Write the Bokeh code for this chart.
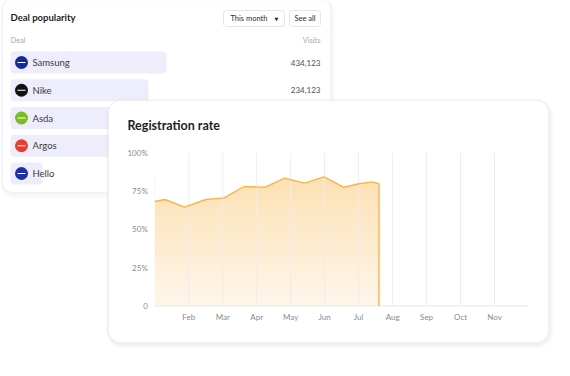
from bokeh.plotting import figure
from bokeh.models import Range1d
from bokeh.core.properties import value
from bokeh.embed import file_html
from bokeh.resources import INLINE

# ---------------- data ----------------
deals = ["Samsung", "Nike", "Asda", "Argos", "Hello"]
deal_share = [100, 88.5, 72, 66, 20.5]          # bar length (relative popularity)
deal_visits = ["434,123", "234,123", "", "", ""]  # hidden rows are covered
logo_colors = ["#1428A0", "#111111", "#78BE20", "#EE3B2F", "#1E2FA8"]

month_labels = ["Feb", "Mar", "Apr", "May", "Jun", "Jul", "Aug", "Sep", "Oct", "Nov"]
month_ticks = [1, 2, 3, 4, 5, 6, 7, 8, 9, 10]
rate_x = [0, 0.3, 0.88, 1.5, 2.04, 2.63, 3.24, 3.82, 4.41, 4.98, 5.57, 6.01, 6.4, 6.6]
rate = [68.2, 69.5, 64.5, 69.5, 70.6, 78.0, 77.5, 83.4, 80.2, 84.3, 77.5, 79.8, 81.0, 79.8]
y_ticks = [0, 25, 50, 75, 100]
y_tick_labels = ["0", "25%", "50%", "75%", "100%"]

FONT = value("Lato")
W, H = 570, 376

p = figure(width=W, height=H, x_range=Range1d(0, W), y_range=Range1d(H, 0),
           output_backend="svg", toolbar_location=None, min_border=0,
           x_axis_location=None, y_axis_location=None)
p.xgrid.visible = False
p.ygrid.visible = False
p.outline_line_color = None
p.background_fill_color = "white"
p.border_fill_color = "white"


def card(l, r, t, b, rad, shadow_alpha):
    for k in range(1, 7):
        p.quad(left=l - 0.4 * k, right=r + 0.8 * k, top=t - 0.3 * k, bottom=b + 1.1 * k,
               fill_color="#C9C9DD", fill_alpha=shadow_alpha, line_color=None,
               border_radius=rad + k)
    p.quad(left=l, right=r, top=t, bottom=b, fill_color="white",
           line_color="#F0F0F4", line_width=1, border_radius=rad)


# ---------------- back card: Deal popularity ----------------
card(2, 330, -2, 192, 10, 0.035)

p.text(x=[10], y=[17], text=["Deal popularity"], text_font=FONT, text_font_style="bold",
       text_font_size="9.5px", text_baseline="middle", text_color="#1E1E24")

p.quad(left=223, right=284, top=10, bottom=26, fill_color="white", line_color="#E4E4EA",
       border_radius=3)
p.quad(left=289, right=320, top=10, bottom=26, fill_color="white", line_color="#E4E4EA",
       border_radius=3)
p.text(x=[230], y=[18], text=["This month"], text_font=FONT, text_font_size="7.5px",
       text_baseline="middle", text_color="#2A2A30")
p.scatter(x=[276], y=[18.5], marker="inverted_triangle", size=4, fill_color="#2A2A30",
          line_color=None)
p.text(x=[304.5], y=[18], text=["See all"], text_font=FONT, text_font_size="7.5px",
       text_baseline="middle", text_align="center", text_color="#2A2A30")

p.text(x=[10], y=[40], text=["Deal"], text_font=FONT, text_font_size="7.5px",
       text_baseline="middle", text_color="#A8A8AC")
p.text(x=[320], y=[40], text=["Visits"], text_font=FONT, text_font_size="7.5px",
       text_baseline="middle", text_align="right", text_color="#A8A8AC")

idx = list(range(len(deals)))
bars = p.subplot(x_source=Range1d(0, 100), y_source=Range1d(0, 4),
                 x_target=Range1d(10, 166), y_target=Range1d(62, 173))
bars.hbar(y=idx, left=0, right=deal_share, height=0.8, fill_color="#EEEDFC",
          line_color=None, border_radius=4)

logos = p.subplot(x_source=Range1d(0, 1), y_source=Range1d(0, 4),
                  x_target=Range1d(21, 22), y_target=Range1d(62, 173))
logos.scatter(x=[0] * len(deals), y=idx, size=13, fill_color=logo_colors, line_color=None)
logos.scatter(x=[0] * len(deals), y=idx, marker="dash", size=8, line_color="white",
              line_width=1)

rows = p.subplot(x_source=Range1d(0, 1), y_source=Range1d(0, 4),
                 x_target=Range1d(10, 320), y_target=Range1d(62, 173))
rows.text(x=[0] * len(deals), y=idx, text=deals, x_offset=22, text_font=FONT,
          text_font_size="9.5px", text_baseline="middle", text_color="#3A3A3E")
rows.text(x=[1] * len(deals), y=idx, text=deal_visits, text_font=FONT,
          text_font_size="8px", text_baseline="middle", text_align="right",
          text_color="#505055")

# ---------------- front card: Registration rate ----------------
card(108, 548, 100, 342, 12, 0.06)

p.text(x=[127], y=[125], text=["Registration rate"], text_font=FONT, text_font_style="bold",
       text_font_size="12.5px", text_baseline="middle", text_color="#1E1E24")

ch = p.subplot(x_source=Range1d(0, 11), y_source=Range1d(0, 100),
               x_target=Range1d(154.3, 528), y_target=Range1d(305.5, 152.3))

# gradient fill as thin bands, masked above the line
N = 40
top_val = 86.0
bh = top_val / N
centers = [bh * (i + 0.5) for i in range(N)]
c0 = (254, 246, 235)
c1 = (253, 224, 178)
band_colors = []
for i in range(N):
    t = (i + 0.5) / N
    rgb = tuple(int(round(c0[j] + (c1[j] - c0[j]) * t)) for j in range(3))
    band_colors.append("#%02x%02x%02x" % rgb)
ch.hbar(y=centers, left=0, right=rate_x[-1], height=bh * 1.2, fill_color=band_colors,
        line_color=None)
ch.varea(x=rate_x, y1=rate, y2=[100] * len(rate), fill_color="white")

ch.segment(x0=month_ticks, y0=[0] * len(month_ticks), x1=month_ticks,
           y1=[100] * len(month_ticks), line_color="#EDEDED", line_width=1)
ch.segment(x0=[0], y0=[0], x1=[11], y1=[0], line_color="#E6E6E6", line_width=1)

ch.line(x=rate_x + [rate_x[-1]], y=rate + [0], line_color="#F8B448", line_width=1.4,
        line_join="round")

ch.text(x=month_ticks, y=[0] * len(month_ticks), text=month_labels, y_offset=11,
        text_font=FONT, text_font_size="8px", text_align="center",
        text_baseline="middle", text_color="#8A8A8A")
ch.text(x=[0] * len(y_ticks), y=y_ticks, text=y_tick_labels, x_offset=-7,
        text_font=FONT, text_font_size="8px", text_align="right",
        text_baseline="middle", text_color="#8A8A8A")

open("out.html", "w").write(file_html(p, INLINE))
